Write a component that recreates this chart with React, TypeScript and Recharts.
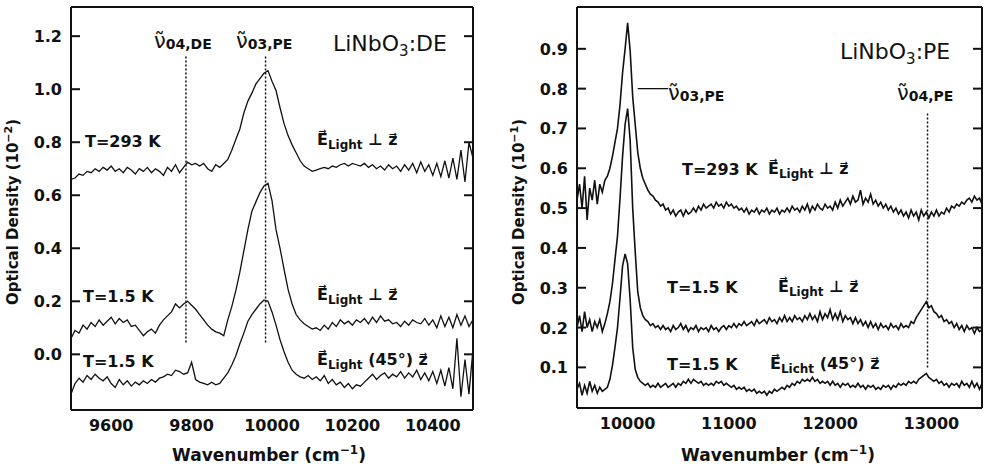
import React from 'react'

import { LineChart, Line, XAxis, YAxis, ReferenceLine } from 'recharts'

const DE_START = 9500
const DE_STEP = 10
const PE_START = 9500
const PE_STEP = 25

// LiNbO3:DE, optical density in 10^-2
const deRoomPerp = [
  0.66, 0.665, 0.68, 0.675, 0.69, 0.685, 0.7, 0.69, 0.705, 0.695,
  0.71, 0.69, 0.7, 0.685, 0.705, 0.695, 0.68, 0.7, 0.69, 0.705,
  0.685, 0.7, 0.69, 0.675, 0.705, 0.69, 0.715, 0.685, 0.705, 0.725,
  0.715, 0.72, 0.71, 0.72, 0.7, 0.69, 0.715, 0.705, 0.72, 0.735,
  0.77, 0.81, 0.85, 0.91, 0.955, 0.985, 1.02, 1.04, 1.06, 1.07,
  1.03, 0.995, 0.93, 0.87, 0.825, 0.79, 0.76, 0.73, 0.71, 0.7,
  0.69, 0.695, 0.7, 0.705, 0.7, 0.71, 0.705, 0.715, 0.72, 0.71,
  0.72, 0.715, 0.71, 0.72, 0.705, 0.715, 0.7, 0.71, 0.695, 0.715,
  0.7, 0.71, 0.69, 0.715, 0.695, 0.72, 0.685, 0.725, 0.69, 0.715,
  0.675, 0.72, 0.67, 0.73, 0.665, 0.74, 0.66, 0.77, 0.65, 0.8,
  0.74,
]
const deColdPerp = [
  0.06, 0.09, 0.08, 0.11, 0.095, 0.12, 0.105, 0.13, 0.11, 0.125,
  0.14, 0.115, 0.135, 0.12, 0.13, 0.105, 0.11, 0.09, 0.07, 0.085,
  0.095, 0.08, 0.11, 0.13, 0.145, 0.16, 0.19, 0.175, 0.19, 0.2,
  0.185, 0.17, 0.15, 0.13, 0.11, 0.095, 0.085, 0.08, 0.07, 0.13,
  0.18, 0.24, 0.31, 0.39, 0.47, 0.54, 0.575, 0.61, 0.635, 0.645,
  0.58, 0.47, 0.4, 0.32, 0.245, 0.19, 0.15, 0.13, 0.115, 0.105,
  0.095, 0.1, 0.09, 0.11, 0.095, 0.12, 0.105, 0.13, 0.115, 0.125,
  0.11, 0.13, 0.12, 0.135, 0.115, 0.14, 0.12, 0.145, 0.125, 0.13,
  0.115, 0.12, 0.105, 0.125, 0.11, 0.13, 0.12, 0.115, 0.135, 0.11,
  0.13, 0.1, 0.145, 0.105, 0.14, 0.1, 0.15, 0.11, 0.145, 0.105,
  0.13,
]
const deCold45 = [
  -0.15, -0.11, -0.09, -0.105, -0.08, -0.095, -0.075, -0.09, -0.1, -0.085,
  -0.11, -0.125, -0.095, -0.115, -0.1, -0.12, -0.105, -0.115, -0.1, -0.11,
  -0.095, -0.105, -0.09, -0.085, -0.075, -0.08, -0.06, -0.065, -0.075, -0.07,
  -0.03, -0.095, -0.105, -0.11, -0.115, -0.105, -0.115, -0.11, -0.09, -0.07,
  -0.04, -0.005, 0.04, 0.08, 0.125, 0.15, 0.17, 0.19, 0.205, 0.2,
  0.16, 0.11, 0.055, 0.01, -0.03, -0.06, -0.075, -0.085, -0.09, -0.08,
  -0.095, -0.085, -0.1, -0.08, -0.11, -0.095, -0.115, -0.105, -0.125, -0.11,
  -0.13, -0.115, -0.12, -0.105, -0.09, -0.075, -0.095, -0.08, -0.07, -0.09,
  -0.075, -0.085, -0.065, -0.09, -0.07, -0.085, -0.06, -0.095, -0.07, -0.1,
  -0.065, -0.11, -0.06, -0.12, -0.05, -0.13, 0.06, -0.16, -0.02, -0.15,
  0.02,
]

// LiNbO3:PE, optical density in 10^-1
const peRoomPerp = [
  0.52, 0.56, 0.5, 0.58, 0.47, 0.55, 0.52, 0.57, 0.51, 0.56,
  0.54, 0.57, 0.58, 0.6, 0.63, 0.665, 0.7, 0.76, 0.84, 0.9,
  0.965, 0.895, 0.78, 0.71, 0.64, 0.6, 0.575, 0.56, 0.545, 0.535,
  0.53, 0.52, 0.515, 0.505, 0.51, 0.495, 0.5, 0.485, 0.495, 0.48,
  0.49, 0.495, 0.48, 0.495, 0.485, 0.49, 0.5, 0.49, 0.505, 0.495,
  0.51, 0.5, 0.505, 0.51, 0.5, 0.515, 0.505, 0.51, 0.5, 0.515,
  0.505, 0.51, 0.5, 0.505, 0.495, 0.5, 0.49, 0.5, 0.485, 0.495,
  0.49, 0.5, 0.485, 0.495, 0.49, 0.5, 0.485, 0.495, 0.49, 0.5,
  0.485, 0.495, 0.49, 0.5, 0.49, 0.505, 0.495, 0.5, 0.49, 0.505,
  0.495, 0.51, 0.49, 0.505, 0.495, 0.51, 0.5, 0.495, 0.51, 0.5,
  0.505, 0.495, 0.515, 0.5, 0.52, 0.505, 0.515, 0.525, 0.51, 0.53,
  0.515, 0.52, 0.545, 0.51, 0.525, 0.515, 0.535, 0.51, 0.52, 0.505,
  0.515, 0.5, 0.51, 0.495, 0.505, 0.49, 0.5, 0.485, 0.495, 0.48,
  0.49, 0.475, 0.495, 0.48, 0.49, 0.47, 0.495, 0.48, 0.49, 0.475,
  0.49, 0.48, 0.495, 0.48, 0.49, 0.485, 0.5, 0.49, 0.505, 0.5,
  0.51, 0.505, 0.515, 0.51, 0.52, 0.525, 0.515, 0.53, 0.52, 0.525,
  0.51,
]
const peColdPerp = [
  0.2, 0.23, 0.19, 0.24, 0.2, 0.22, 0.19, 0.215, 0.2, 0.22,
  0.19, 0.21, 0.235, 0.265, 0.31, 0.37, 0.43, 0.525, 0.63, 0.71,
  0.75, 0.67, 0.5, 0.39, 0.29, 0.25, 0.23, 0.22, 0.215, 0.205,
  0.21, 0.2, 0.205, 0.195, 0.205, 0.195, 0.2, 0.19, 0.205, 0.195,
  0.2, 0.21, 0.195, 0.205, 0.19, 0.2, 0.195, 0.205, 0.19, 0.2,
  0.195, 0.2, 0.19, 0.205, 0.195, 0.2, 0.19, 0.2, 0.205, 0.195,
  0.205, 0.2, 0.21, 0.2, 0.21, 0.205, 0.215, 0.205, 0.21, 0.215,
  0.205, 0.22, 0.21, 0.215, 0.22, 0.21, 0.225, 0.215, 0.22, 0.21,
  0.225, 0.215, 0.23, 0.215, 0.225, 0.215, 0.23, 0.22, 0.225, 0.215,
  0.23, 0.22, 0.235, 0.22, 0.23, 0.215, 0.24, 0.22, 0.235, 0.225,
  0.245, 0.22, 0.235, 0.22, 0.24, 0.215, 0.23, 0.22, 0.225, 0.21,
  0.225, 0.21, 0.22, 0.205, 0.215, 0.2, 0.215, 0.2, 0.21, 0.195,
  0.21, 0.2, 0.205, 0.195, 0.21, 0.2, 0.205, 0.195, 0.21, 0.2,
  0.205, 0.2, 0.215, 0.21, 0.225, 0.235, 0.245, 0.255, 0.265, 0.25,
  0.255, 0.24, 0.235, 0.225, 0.23, 0.215, 0.22, 0.21, 0.215, 0.2,
  0.21, 0.195, 0.205, 0.19, 0.205, 0.195, 0.2, 0.185, 0.2, 0.19,
  0.195,
]
const peCold45 = [
  0.045, 0.06, 0.03, 0.055, 0.035, 0.065, 0.04, 0.055, 0.035, 0.05,
  0.04, 0.045, 0.05, 0.07, 0.105, 0.15, 0.2, 0.275, 0.355, 0.385,
  0.36, 0.27, 0.15, 0.095, 0.075, 0.065, 0.06, 0.055, 0.06, 0.05,
  0.055, 0.05, 0.06, 0.05, 0.055, 0.06, 0.05, 0.055, 0.06, 0.05,
  0.06, 0.055, 0.065, 0.06, 0.07, 0.06, 0.07, 0.065, 0.06, 0.065,
  0.055, 0.06, 0.055, 0.06, 0.055, 0.065, 0.06, 0.065, 0.055, 0.06,
  0.055, 0.05, 0.055, 0.045, 0.05, 0.045, 0.05, 0.04, 0.045, 0.04,
  0.045, 0.035, 0.04, 0.035, 0.04, 0.03, 0.04, 0.035, 0.045, 0.04,
  0.045, 0.05, 0.045, 0.055, 0.05, 0.06, 0.055, 0.065, 0.06, 0.07,
  0.065, 0.07, 0.065, 0.075, 0.065, 0.07, 0.06, 0.065, 0.06, 0.065,
  0.055, 0.065, 0.055, 0.06, 0.05, 0.06, 0.055, 0.06, 0.05, 0.055,
  0.05, 0.06, 0.05, 0.055, 0.045, 0.055, 0.05, 0.055, 0.045, 0.05,
  0.045, 0.055, 0.05, 0.055, 0.045, 0.055, 0.05, 0.06, 0.055, 0.06,
  0.055, 0.065, 0.06, 0.065, 0.06, 0.07, 0.075, 0.08, 0.085, 0.075,
  0.07, 0.065, 0.07, 0.06, 0.065, 0.055, 0.06, 0.05, 0.06, 0.055,
  0.06, 0.05, 0.065, 0.055, 0.06, 0.05, 0.065, 0.05, 0.06, 0.045,
  0.06,
]

const deXTicks = [9600, 9800, 10000, 10200, 10400]
const deYTicks = [0, 0.2, 0.4, 0.6, 0.8, 1.0, 1.2]
const peXTicks = [10000, 11000, 12000, 13000]
const peYTicks = [0.1, 0.2, 0.3, 0.4, 0.5, 0.6, 0.7, 0.8, 0.9]

// dotted line positions (cm^-1)
const nu04DE = 9786
const nu03PE = 9984
const nu04PE = 12962

const ink = '#111'
const TICK = 9

const toPoints = (start: number, step: number, vals: number[]) =>
  vals.map((v, i) => ({ w: start + i * step, v }))

// labels of the outer axes
function BottomLabel({ x, y, payload }: any) {
  return <text x={x} y={y + 21} textAnchor='middle' fontSize={16} fontWeight='bold' fill={ink}>{payload.value}</text>
}
function LeftLabel({ x, y, payload }: any) {
  return <text x={x - 9} y={y + 6} textAnchor='end' fontSize={16} fontWeight='bold' fill={ink}>{payload.value.toFixed(1)}</text>
}

// inward tick marks, drawn by mirrored axes on all four sides
const UpTick = ({ x, y }: any) => <path d={`M${x},${y}V${y - TICK}`} stroke={ink} strokeWidth={2} fill='none' />
const DownTick = ({ x, y }: any) => <path d={`M${x},${y}V${y + TICK}`} stroke={ink} strokeWidth={2} fill='none' />
const RightwardTick = ({ x, y }: any) => <path d={`M${x},${y}H${x + TICK}`} stroke={ink} strokeWidth={2} fill='none' />
const LeftwardTick = ({ x, y }: any) => <path d={`M${x},${y}H${x - TICK}`} stroke={ink} strokeWidth={2} fill='none' />

function Nu({ x, y, sub }: { x: number; y: number; sub: string }) {
  return (
    <text x={x} y={y} fontSize={21} fill={ink}>
      {'\u03BD\u0303'}
      <tspan fontSize={14} fontWeight='bold' dy={1}>{sub}</tspan>
    </text>
  )
}

function Field({ x, y, word = 'Light', tilted = false }: { x: number; y: number; word?: string; tilted?: boolean }) {
  return (
    <text x={x} y={y} fontSize={16} fontWeight='bold' fill={ink}>
      {'E\u20D7'}
      <tspan fontSize={12} dy={4}>{word}</tspan>
      <tspan dy={-4}>{tilted ? ' (45\u00B0) z\u20D7' : ' \u22A5 z\u20D7'}</tspan>
    </text>
  )
}

function Temp({ x, y, label }: { x: number; y: number; label: string }) {
  return <text x={x} y={y} fontSize={16} fontWeight='bold' fill={ink}>{label}</text>
}

function Formula({ x, y, tag }: { x: number; y: number; tag: string }) {
  return (
    <text x={x} y={y} fontSize={22} fill={ink}>
      LiNbO<tspan fontSize={15} dy={5}>3</tspan>
      <tspan dy={-5}>:{tag}</tspan>
    </text>
  )
}

function YTitle({ x, y, exp }: { x: number; y: number; exp: string }) {
  return (
    <text x={x} y={y} fontSize={15} fontWeight='bold' fill={ink} textAnchor='middle' transform={`rotate(-90 ${x} ${y})`}>
      Optical Density (10<tspan fontSize={11} dy={-6}>{exp}</tspan>
      <tspan dy={6}>)</tspan>
    </text>
  )
}

function XTitle({ x, y }: { x: number; y: number }) {
  return (
    <text x={x} y={y} fontSize={17} fontWeight='bold' fill={ink} textAnchor='middle'>
      Wavenumber (cm<tspan fontSize={12} dy={-7}>{'\u22121'}</tspan>
      <tspan dy={7}>)</tspan>
    </text>
  )
}

const axisLine = { stroke: ink, strokeWidth: 2 }
const deXDomain = [9500, 10500]
const deYDomain = [-0.21, 1.31]
const peXDomain = [9500, 13500]
const peYDomain = [-0.002, 1.005]

function frameAxes(xd: number[], yd: number[], xt: number[], yt: number[], yWidth: number, xHeight: number) {
  const common = { type: 'number' as const, allowDataOverflow: true, interval: 0 as const, tickSize: 0, tickMargin: 0, tickLine: false }
  return [
    <XAxis key='b' xAxisId='b' dataKey='w' domain={xd} ticks={xt} height={xHeight} axisLine={axisLine} tick={<BottomLabel />} {...common} />,
    <XAxis key='bm' xAxisId='bm' orientation='bottom' mirror domain={xd} ticks={xt} axisLine={false} tick={<UpTick />} {...common} />,
    <XAxis key='t' xAxisId='t' orientation='top' mirror domain={xd} ticks={xt} axisLine={axisLine} tick={<DownTick />} {...common} />,
    <YAxis key='l' yAxisId='l' domain={yd} ticks={yt} width={yWidth} axisLine={axisLine} tick={<LeftLabel />} {...common} />,
    <YAxis key='lm' yAxisId='lm' orientation='left' mirror domain={yd} ticks={yt} axisLine={false} tick={<RightwardTick />} {...common} />,
    <YAxis key='r' yAxisId='r' orientation='right' mirror domain={yd} ticks={yt} axisLine={axisLine} tick={<LeftwardTick />} {...common} />,
  ]
}

export default function App(): JSX.Element {
  const de = [deRoomPerp, deColdPerp, deCold45].map((s) => toPoints(DE_START, DE_STEP, s))
  const pe = [peRoomPerp, peColdPerp, peCold45].map((s) => toPoints(PE_START, PE_STEP, s))

  return (
    <div style={{ position: 'absolute', left: 0, top: 0, width: 987, height: 471, background: '#fff', fontFamily: 'DejaVu Sans' }}>
      <div style={{ position: 'absolute', left: 0, top: 0 }}>
        <LineChart width={480} height={471} margin={{ top: 7, right: 7, bottom: 0, left: 0 }}>
          {frameAxes(deXDomain, deYDomain, deXTicks, deYTicks, 71, 61)}
          <ReferenceLine xAxisId='b' yAxisId='l' segment={[{ x: nu04DE, y: 0.045 }, { x: nu04DE, y: 1.13 }]} stroke={ink} strokeWidth={1.5} strokeDasharray='2 2' />
          <ReferenceLine xAxisId='b' yAxisId='l' segment={[{ x: nu03PE, y: 0.045 }, { x: nu03PE, y: 1.13 }]} stroke={ink} strokeWidth={1.5} strokeDasharray='2 2' />
          {de.map((d, i) => (
            <Line key={i} xAxisId='b' yAxisId='l' data={d} dataKey='v' type='linear' stroke={ink} strokeWidth={1.3} dot={false} isAnimationActive={false} />
          ))}
        </LineChart>
      </div>
      <div style={{ position: 'absolute', left: 500, top: 0 }}>
        <LineChart width={487} height={471} margin={{ top: 7, right: 5, bottom: 0, left: 0 }}>
          {frameAxes(peXDomain, peYDomain, peXTicks, peYTicks, 77, 63)}
          <ReferenceLine xAxisId='b' yAxisId='l' segment={[{ x: nu04PE, y: 0.1 }, { x: nu04PE, y: 0.74 }]} stroke={ink} strokeWidth={1.5} strokeDasharray='2 2' />
          <ReferenceLine xAxisId='b' yAxisId='l' segment={[{ x: 10100, y: 0.8 }, { x: 10400, y: 0.8 }]} stroke={ink} strokeWidth={1.3} />
          {pe.map((d, i) => (
            <Line key={i} xAxisId='b' yAxisId='l' data={d} dataKey='v' type='linear' stroke={ink} strokeWidth={1.6} dot={false} isAnimationActive={false} />
          ))}
        </LineChart>
      </div>
      <svg width={987} height={471} style={{ position: 'absolute', left: 0, top: 0, pointerEvents: 'none' }}>
        <Nu x={154} y={48} sub='04,DE' />
        <Nu x={236} y={48} sub='03,PE' />
        <Formula x={333} y={51} tag='DE' />
        <Temp x={85} y={147} label='T=293 K' />
        <Field x={317} y={145} />
        <Temp x={83} y={302} label='T=1.5 K' />
        <Field x={317} y={300} />
        <Temp x={83} y={367} label='T=1.5 K' />
        <Field x={317} y={365} tilted />
        <YTitle x={18} y={212} exp={'\u22122'} />
        <XTitle x={269} y={461} />

        <Formula x={840} y={59} tag='PE' />
        <Nu x={668} y={100} sub='03,PE' />
        <Nu x={897} y={100} sub='04,PE' />
        <Temp x={682} y={175} label='T=293 K' />
        <Field x={768} y={174} />
        <Temp x={667} y={293} label='T=1.5 K' />
        <Field x={778} y={292} />
        <Temp x={667} y={370} label='T=1.5 K' />
        <Field x={770} y={369} word='Licht' tilted />
        <YTitle x={524} y={212} exp={'\u22121'} />
        <XTitle x={778} y={461} />
      </svg>
    </div>
  )
}
